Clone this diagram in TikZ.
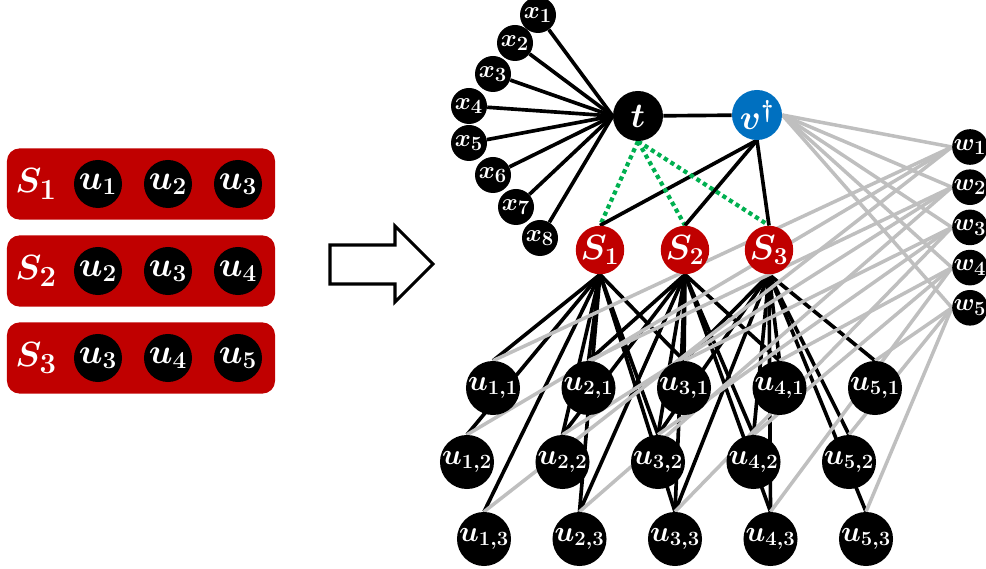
\documentclass[tikz,border=0pt]{standalone}
\usepackage{amsmath,amssymb}
\usepackage{xcolor}
\usetikzlibrary{backgrounds,calc}

\definecolor{setred}{HTML}{C00000}
\definecolor{dagblue}{HTML}{0070C0}
\definecolor{candgreen}{HTML}{00B050}
\definecolor{wgray}{HTML}{BFBFBF}

\begin{document}
\begin{tikzpicture}[
    x=0.025cm, y=-0.025cm,
    unode/.style={circle, fill=black, text=white, inner sep=0pt,
                  minimum size=1.2cm,
                  font=\fontsize{21}{23}\selectfont\boldmath},
    xnode/.style={unode, minimum size=0.9cm,
                  font=\fontsize{19}{21}\selectfont\boldmath},
    wnode/.style={xnode, minimum size=0.85cm},
    snode/.style={unode, fill=setred,
                  font=\fontsize{25}{27}\selectfont\boldmath},
    tnode/.style={unode, minimum size=1.25cm,
                  font=\fontsize{27}{29}\selectfont\boldmath},
    dagnode/.style={tnode, fill=dagblue},
    setbox/.style={fill=setred, rounded corners=9pt, inner sep=0pt,
                   minimum width=6.7cm, minimum height=1.78cm},
    setlabel/.style={text=white, inner sep=0pt,
                     font=\fontsize{31}{33}\selectfont\boldmath},
    elem/.style={unode, font=\fontsize{24}{26}\selectfont\boldmath},
    bedge/.style={line width=2.6pt, black},
    gedge/.style={line width=2.5pt, wgray},
    cand/.style={line width=3pt, candgreen, dash pattern=on 3pt off 2.5pt},
    bigarrow/.style={line width=2.2pt, black, fill=white, line join=miter},
]

\useasboundingbox (0,0) rectangle (986,569);

% ════ SETS (left) ════════════════════════════════════════════
\foreach \j/\y/\a/\b/\c in {1/184/1/2/3, 2/271/2/3/4, 3/358/3/4/5}{
    \node[setbox] (box\j) at (141,\y) {};
    \node[setlabel] (lab\j) at (36,\y) {$S_{\j}$};
    \node[elem] (e\j a) at (98,\y)  {$u_{\a}$};
    \node[elem] (e\j b) at (168,\y) {$u_{\b}$};
    \node[elem] (e\j c) at (238,\y) {$u_{\c}$};
}

% ── arrow ────────────────────────────────────────────────────
\draw[bigarrow] (330,245) -- (395,245) -- (395,226) -- (433,264)
    -- (395,302) -- (395,284) -- (330,284) -- cycle;

% ════ GRAPH (right) ══════════════════════════════════════════
% leaves of t
\foreach \i/\x/\y in {1/538/15, 2/515/43, 3/493/74, 4/469/106,
                      5/469/143, 6/493/175, 7/516/207, 8/540/238}{
    \node[xnode] (x\i) at (\x,\y) {$x_{\i}$};
}

\node[tnode]   (t) at (638,116) {$t$};
\node[dagnode] (v) at (757,115) {$v^{\dagger}$};

\foreach \j/\x in {1/600, 2/685, 3/769}{
    \node[snode] (S\j) at (\x,250) {$S_{\j}$};
}

\foreach \i in {1,...,5}{
    \node[wnode] (w\i) at (970,{147+40.2*(\i-1)}) {$w_{\i}$};
}

% copies u_{i,k}
\foreach \k/\xo/\y in {1/493/388, 2/467/462, 3/484/539}{
    \foreach \i in {1,...,5}{
        \node[unode] (u\i\k) at ({\xo+95.5*(\i-1)},\y) {$u_{\i,\k}$};
    }
}

% ── edges ────────────────────────────────────────────────────
\begin{scope}[on background layer]
    \foreach \i in {1,...,8}{
        \draw[bedge] (t.west) -- (x\i);
    }
    \draw[bedge] (t) -- (v);
    \foreach \j in {1,2,3}{
        \draw[cand]  (t.south) -- (S\j.north);
        \draw[bedge] (v.south) -- (S\j.north);
    }
    % membership
    \foreach \j/\list in {1/{1,2,3}, 2/{2,3,4}, 3/{3,4,5}}{
        \foreach \i in \list{
            \foreach \k in {1,2,3}{
                \draw[bedge] (S\j.south) -- (u\i\k.north);
            }
        }
    }
    % gray part
    \foreach \i in {1,...,5}{
        \draw[gedge] (v.east) -- (w\i.west);
        \foreach \k in {1,2,3}{
            \draw[gedge] (w\i.west) -- (u\i\k.north);
        }
    }
\end{scope}

\end{tikzpicture}
\end{document}
